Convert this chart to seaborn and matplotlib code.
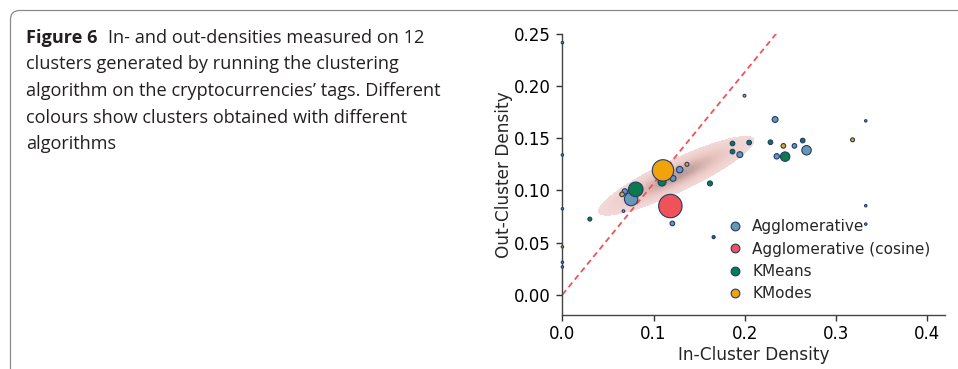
import numpy as np
import pandas as pd
import matplotlib
matplotlib.use("Agg")
import matplotlib.pyplot as plt
import seaborn as sns
from matplotlib.lines import Line2D
from matplotlib.patches import FancyBboxPatch
from matplotlib.colors import LinearSegmentedColormap
from matplotlib.transforms import IdentityTransform

# ---------------- data ----------------
algorithms = ["Agglomerative", "Agglomerative (cosine)", "KMeans", "KModes"]
palette_colors = ["#6797b5", "#f0525a", "#0b7a4f", "#f0a30a"]

agg_in = [0.0, 0.0, 0.0, 0.0, 0.0, 0.333, 0.333, 0.333, 0.2335, 0.1948,
          0.2547, 0.268, 0.2353, 0.1287, 0.1214, 0.0754, 0.0685, 0.1207]
agg_out = [0.2417, 0.134, 0.0824, 0.0311, 0.0266, 0.1667, 0.0853, 0.0677, 0.168, 0.1343,
           0.1427, 0.1385, 0.1327, 0.1199, 0.1115, 0.0917, 0.099, 0.0683]
agg_size = [3, 3, 3, 3, 3, 3, 3, 3, 18, 18, 11, 46, 15, 22, 18, 93, 15, 11]

cos_in = [0.1185]
cos_out = [0.085]
cos_size = [284]

km_in = [0.1867, 0.205, 0.1867, 0.2284, 0.2638, 0.2445, 0.162, 0.1093, 0.0805, 0.0301, 0.166]
km_out = [0.145, 0.1459, 0.1372, 0.1462, 0.1478, 0.1324, 0.1067, 0.108, 0.101, 0.0725, 0.0552]
km_size = [11, 11, 11, 11, 11, 46, 13, 33, 110, 8, 5]

kmo_in = [0.1104, 0.1367, 0.0655, 0.067, 0.2426, 0.3185, 0.1999, 0.0]
kmo_out = [0.1192, 0.125, 0.0962, 0.0802, 0.1427, 0.1485, 0.1908, 0.0459]
kmo_size = [237, 8, 11, 3.5, 11, 8, 4, 3]

diag_in = [0.0, 0.25]
diag_out = [0.0, 0.2666]

# density-ellipse (centre, major half-axis, minor half-axis) in data units
ell_center = (0.125, 0.114)
ell_major = (0.0849, 0.0351)
ell_minor = (-0.0075, 0.0139)

x_ticks = [0.0, 0.1, 0.2, 0.3, 0.4]
y_ticks = [0.00, 0.05, 0.10, 0.15, 0.20, 0.25]

caption_bold = "Figure 6"
caption_lines = [
    "In- and out-densities measured on 12",
    "clusters generated by running the clustering",
    "algorithm on the cryptocurrencies\u2019 tags. Different",
    "colours show clusters obtained with different",
    "algorithms",
]

# ---------------- frame ----------------
df = pd.concat([
    pd.DataFrame({"in": agg_in, "out": agg_out, "size": agg_size, "alg": algorithms[0]}),
    pd.DataFrame({"in": cos_in, "out": cos_out, "size": cos_size, "alg": algorithms[1]}),
    pd.DataFrame({"in": km_in, "out": km_out, "size": km_size, "alg": algorithms[2]}),
    pd.DataFrame({"in": kmo_in, "out": kmo_out, "size": kmo_size, "alg": algorithms[3]}),
], ignore_index=True)

sns.set_style("ticks")
plt.rcParams["font.family"] = ["DejaVu Sans"]

W, H = 958, 369
fig = plt.figure(figsize=(W / 100, H / 100), dpi=100)
ax = fig.add_axes([561.5 / W, 54 / H, 383.5 / W, 281 / H])

# ellipse density shading
gx = np.linspace(-0.01, 0.43, 500)
gy = np.linspace(-0.03, 0.26, 400)
X, Y = np.meshgrid(gx, gy)
Mm = np.array([[ell_major[0], ell_minor[0]], [ell_major[1], ell_minor[1]]])
Mi = np.linalg.inv(Mm)
dx = X - ell_center[0]
dy = Y - ell_center[1]
s = Mi[0, 0] * dx + Mi[0, 1] * dy
t = Mi[1, 0] * dx + Mi[1, 1] * dy
dens = np.exp(-2.0 * (s ** 2 + t ** 2))
cmap = LinearSegmentedColormap.from_list(
    "ell", ["#f2d9d7", "#eed0cd", "#e8c5c1", "#d9b4b0", "#b49c98"])
levels = np.linspace(np.exp(-2.0), 1.0, 26)
levels[-1] = 1.01
ax.contourf(X, Y, dens, levels=levels, cmap=cmap, zorder=1)

# diagonal
ax.plot(diag_in, diag_out, color="#f0525a", lw=1.3, ls=(0, (3.2, 2.2)), zorder=2)

sns.scatterplot(data=df, x="in", y="out", hue="alg", size="size",
                palette=dict(zip(algorithms, palette_colors)),
                hue_order=algorithms,
                sizes=(3, 284), size_norm=(3, 284),
                edgecolor="#243a6b", linewidth=0.8, alpha=1.0,
                legend=False, ax=ax, zorder=3, clip_on=False)

ax.set_xlim(-0.001, 0.42)
ax.set_ylim(-0.0195, 0.25)
ax.set_xticks(x_ticks)
ax.set_xticklabels([f"{v:.1f}" for v in x_ticks])
ax.set_yticks(y_ticks)
ax.set_yticklabels([f"{v:.2f}" for v in y_ticks])
ax.tick_params(labelsize=12, length=4, width=1, colors="#333333", labelcolor="black")
ax.set_xlabel("In-Cluster Density", fontsize=12.2, labelpad=2)
ax.set_ylabel("Out-Cluster Density", fontsize=12.2, labelpad=1)
sns.despine(ax=ax)
for sp in ["left", "bottom"]:
    ax.spines[sp].set_color("#444444")
    ax.spines[sp].set_linewidth(1.0)

handles = [Line2D([], [], marker="o", ls="", markersize=6.3,
                  markerfacecolor=c, markeredgecolor="#243a6b", markeredgewidth=0.8)
           for c in palette_colors]
leg = ax.legend(handles, algorithms, loc="center", bbox_to_anchor=(0.6975, 0.195),
                frameon=False, fontsize=11, handlelength=1.0, handletextpad=0.6,
                labelspacing=0.48, borderpad=0.2)

# ---------------- caption ----------------
cap_font = "Open Sans"
renderer = fig.canvas.get_renderer()
probe = fig.text(0, 0, caption_lines[2], fontsize=10, family=cap_font)
w10 = probe.get_window_extent(renderer).width
probe.remove()
cap_size = 10 * 416.0 / w10

baselines = [42.7, 69.4, 96.0, 122.7, 149.3]
x0 = 26.0
tb = fig.text(x0 / W, 1 - baselines[0] / H, caption_bold, fontsize=cap_size,
              family=cap_font, fontweight="bold", va="baseline", color="#231f20")
bw = tb.get_window_extent(renderer).width
fig.text((x0 + bw + 10.5) / W, 1 - baselines[0] / H, caption_lines[0], fontsize=cap_size,
         family=cap_font, va="baseline", color="#231f20")
for line, b in zip(caption_lines[1:], baselines[1:]):
    fig.text(x0 / W, 1 - b / H, line, fontsize=cap_size, family=cap_font,
             va="baseline", color="#231f20")

frame = FancyBboxPatch((10.5, -60), 1200, (H - 10.5) + 60,
                       boxstyle="round,pad=0,rounding_size=9",
                       transform=IdentityTransform(), fill=False,
                       edgecolor="#8a8a8a", linewidth=0.9)
fig.patches.append(frame)

fig.savefig("out.png", dpi=100)
